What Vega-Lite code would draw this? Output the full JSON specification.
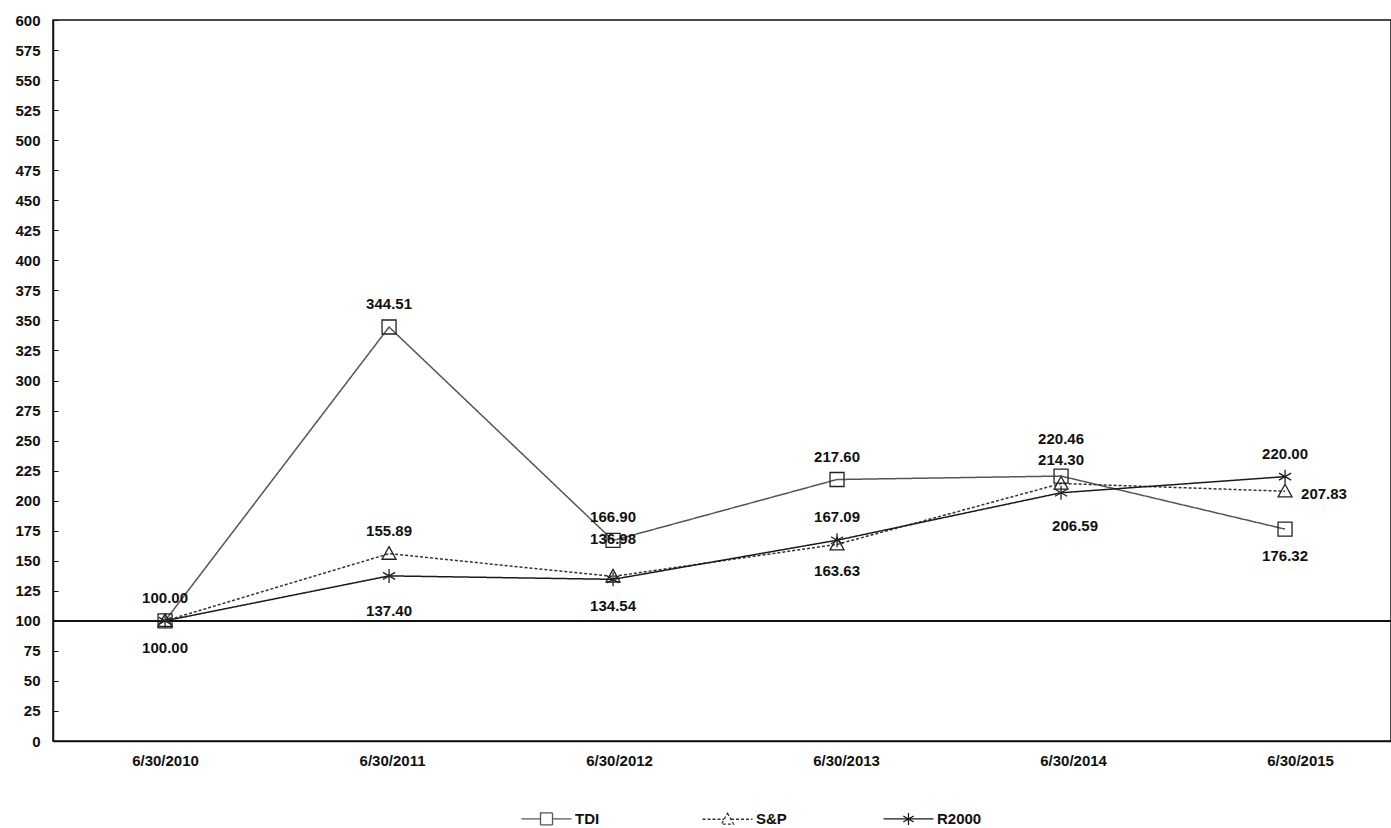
{
  "$schema": "https://vega.github.io/schema/vega-lite/v6.json",
  "autosize": "none",
  "width": 1338,
  "height": 721,
  "padding": {"left": 53, "top": 20, "right": 0, "bottom": 87},
  "background": "white",
  "config": {
    "view": {"stroke": "#111", "strokeWidth": 1.5},
    "font": "Liberation Sans",
    "axis": {"grid": false, "labelFont": "Liberation Sans", "labelFontWeight": "bold", "labelFontSize": 15, "labelColor": "#111", "domainColor": "#111", "domainWidth": 1.5, "tickColor": "#111"},
    "legend": {"title": null, "orient": "none", "legendX": 486, "legendY": 791, "direction": "horizontal", "columns": 3, "gridAlign": "all",
      "columnPadding": 79, "padding": 0, "symbolSize": 100, "labelOffset": 21,
      "labelFont": "Liberation Sans", "labelFontWeight": "bold", "labelFontSize": 15, "labelColor": "#111",
      "symbolStrokeWidth": 1.3}
  },
  "data": {
    "values": [
      {"date": "6/30/2010", "series": "TDI", "value": 100.00},
      {"date": "6/30/2011", "series": "TDI", "value": 344.51},
      {"date": "6/30/2012", "series": "TDI", "value": 166.90},
      {"date": "6/30/2013", "series": "TDI", "value": 217.60},
      {"date": "6/30/2014", "series": "TDI", "value": 220.46},
      {"date": "6/30/2015", "series": "TDI", "value": 176.32},
      {"date": "6/30/2010", "series": "S&P", "value": 100.00},
      {"date": "6/30/2011", "series": "S&P", "value": 155.89},
      {"date": "6/30/2012", "series": "S&P", "value": 136.98},
      {"date": "6/30/2013", "series": "S&P", "value": 163.63},
      {"date": "6/30/2014", "series": "S&P", "value": 214.30},
      {"date": "6/30/2015", "series": "S&P", "value": 207.83},
      {"date": "6/30/2010", "series": "R2000", "value": 100.00},
      {"date": "6/30/2011", "series": "R2000", "value": 137.40},
      {"date": "6/30/2012", "series": "R2000", "value": 134.54},
      {"date": "6/30/2013", "series": "R2000", "value": 167.09},
      {"date": "6/30/2014", "series": "R2000", "value": 206.59},
      {"date": "6/30/2015", "series": "R2000", "value": 220.00}
    ]
  },
  "resolve": {"scale": {"x": "independent"}, "axis": {"x": "independent"}},
  "encoding": {
    "x": {
      "field": "date", "type": "ordinal", "sort": null,
      "scale": {"type": "point", "domain": ["6/30/2010", "6/30/2011", "6/30/2012", "6/30/2013", "6/30/2014", "6/30/2015"], "padding": 0.4866, "align": 0.514},
      "axis": null
    },
    "y": {
      "field": "value", "type": "quantitative",
      "scale": {"domain": [0, 600], "nice": false, "zero": true},
      "axis": {"title": null, "values": [0,25,50,75,100,125,150,175,200,225,250,275,300,325,350,375,400,425,450,475,500,525,550,575,600],
        "tickSize": -5, "labelPadding": 18}
    }
  },
  "layer": [
    {
      "mark": {"type": "point", "opacity": 0},
      "encoding": {
        "x": {"field": "date", "type": "ordinal", "sort": null,
          "scale": {"type": "point", "domain": ["6/30/2010", "6/30/2011", "6/30/2012", "6/30/2013", "6/30/2014", "6/30/2015"], "padding": 0.447, "align": 0.552},
          "axis": {"title": null, "labelAngle": 0, "ticks": false, "labelPadding": 12, "labelBaseline": "top", "domain": true}}
      }
    },
    {
      "mark": {"type": "rule", "color": "#111", "strokeWidth": 1.5},
      "encoding": {"y": {"datum": 100}, "x": null}
    },
    {
      "mark": {"type": "line", "strokeWidth": 1.5},
      "encoding": {
        "detail": {"field": "series"},
        "color": {"field": "series", "type": "nominal", "scale": {"domain": ["TDI", "S&P", "R2000"], "range": ["#555555", "#333333", "#1a1a1a"]},
          "legend": {
            "encode": {"symbols": {"update": {
              "shape": {"signal": "datum.value === 'TDI' ? 'M-5,0H-1.2M1.2,0H5M-1.2,-1.2H1.2V1.2H-1.2Z' : datum.value === 'S&P' ? 'M-5,0H-0.7M0.7,0H5M0,-1.2L1.2,0.96L-1.2,0.96Z' : 'M-5,0H5M0,-1.2V1.2M-1.04,-0.6L1.04,0.6M-1.04,0.6L1.04,-0.6'"},
              "fill": {"value": "transparent"},
              "stroke": {"value": "#222"},
              "strokeWidth": {"value": 1.3}
            }}}
          }},
        "strokeDash": {"field": "series", "type": "nominal", "scale": {"domain": ["TDI", "S&P", "R2000"], "range": [[1, 0], [3, 2], [1, 0]]}}
      }
    },
    {
      "transform": [{"filter": "datum.series === 'TDI'"}],
      "mark": {"type": "point", "shape": "M-1,-1H1V1H-1Z", "filled": false, "size": 196, "strokeWidth": 1.3, "color": "#222", "opacity": 1}
    },
    {
      "transform": [{"filter": "datum.series === 'S&P'"}],
      "mark": {"type": "point", "shape": "M0,-1L1,0.8L-1,0.8Z", "filled": false, "size": 196, "strokeWidth": 1.3, "color": "#222", "opacity": 1}
    },
    {
      "transform": [{"filter": "datum.series === 'R2000'"}],
      "mark": {"type": "point", "shape": "M0,-1V1M-0.87,-0.5L0.87,0.5M-0.87,0.5L0.87,-0.5", "filled": false, "size": 196, "strokeWidth": 1.3, "color": "#222", "opacity": 1}
    },
    {
      "transform": [{"filter": "(datum.series === 'TDI' && datum.date !== '6/30/2014' && datum.date !== '6/30/2015') || (datum.series === 'S&P' && (datum.date === '6/30/2011' || datum.date === '6/30/2014')) || (datum.series === 'R2000' && (datum.date === '6/30/2013' || datum.date === '6/30/2015'))"}],
      "mark": {"type": "text", "dy": -23, "baseline": "middle", "align": "center", "font": "Liberation Sans", "fontWeight": "bold", "fontSize": 15, "color": "#111"},
      "encoding": {"text": {"field": "value", "type": "quantitative", "format": ".2f"}}
    },
    {
      "transform": [{"filter": "(datum.series === 'TDI' && datum.date === '6/30/2014') || (datum.series === 'S&P' && datum.date === '6/30/2012')"}],
      "mark": {"type": "text", "dy": -37, "baseline": "middle", "align": "center", "font": "Liberation Sans", "fontWeight": "bold", "fontSize": 15, "color": "#111"},
      "encoding": {"text": {"field": "value", "type": "quantitative", "format": ".2f"}}
    },
    {
      "transform": [{"filter": "(datum.series === 'R2000' && (datum.date === '6/30/2010' || datum.date === '6/30/2012')) || (datum.series === 'S&P' && datum.date === '6/30/2013') || (datum.series === 'TDI' && datum.date === '6/30/2015')"}],
      "mark": {"type": "text", "dy": 27, "baseline": "middle", "align": "center", "font": "Liberation Sans", "fontWeight": "bold", "fontSize": 15, "color": "#111"},
      "encoding": {"text": {"field": "value", "type": "quantitative", "format": ".2f"}}
    },
    {
      "transform": [{"filter": "datum.series === 'R2000' && datum.date === '6/30/2011'"}],
      "mark": {"type": "text", "dy": 35, "baseline": "middle", "align": "center", "font": "Liberation Sans", "fontWeight": "bold", "fontSize": 15, "color": "#111"},
      "encoding": {"text": {"field": "value", "type": "quantitative", "format": ".2f"}}
    },
    {
      "transform": [{"filter": "datum.series === 'R2000' && datum.date === '6/30/2014'"}],
      "mark": {"type": "text", "dy": 33, "dx": 14, "baseline": "middle", "align": "center", "font": "Liberation Sans", "fontWeight": "bold", "fontSize": 15, "color": "#111"},
      "encoding": {"text": {"field": "value", "type": "quantitative", "format": ".2f"}}
    },
    {
      "transform": [{"filter": "datum.series === 'S&P' && datum.date === '6/30/2015'"}],
      "mark": {"type": "text", "dx": 16, "dy": 3, "baseline": "middle", "align": "left", "font": "Liberation Sans", "fontWeight": "bold", "fontSize": 15, "color": "#111"},
      "encoding": {"text": {"field": "value", "type": "quantitative", "format": ".2f"}}
    }
  ]
}
